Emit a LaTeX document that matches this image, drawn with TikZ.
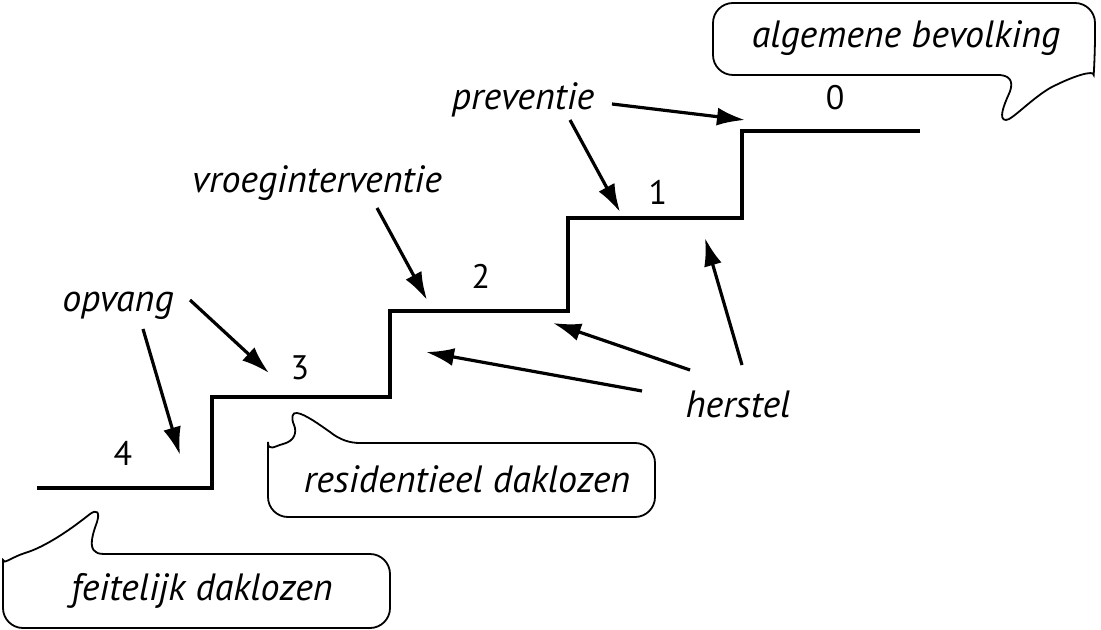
\documentclass[tikz,border=0pt]{standalone}
\usepackage{fontspec}
\setmainfont{PT Sans}
\usetikzlibrary{arrows.meta}
\tikzset{>={Latex[length=14pt,width=9pt]}}
\tikzset{
  trap/.style={line width=2pt},
  pijl/.style={->, line width=1.6pt},
  ballon/.style={line width=0.9pt},
  tekst/.style={font=\fontsize{19}{21}\selectfont\itshape, anchor=base, inner sep=0pt},
  nummer/.style={font=\fontsize{17}{19}\selectfont, anchor=base, inner sep=0pt}
}

\begin{document}
\begin{tikzpicture}[x=0.5pt,y=-0.5pt]
        \useasboundingbox (0,0) rectangle (1101,630);

        % The stairs, step 4 at the bottom up to step 0
        \draw[trap] (37,488) -- (212,488) -- (212,397) -- (390,397) -- (390,311)
            -- (568,311) -- (568,218) -- (742,218) -- (742,131) -- (920,131);

        \node[nummer] (n4) at (123,465) {4};
        \node[nummer] (n3) at (300,379) {3};
        \node[nummer] (n2) at (481,289) {2};
        \node[nummer] (n1) at (658,205) {1};
        \node[nummer] (n0) at (835,110) {0};

        % Labels with arrows
        \node[tekst] (prev) at (523,110) {preventie};
        \node[tekst] (vroeg) at (317,193) {vroeginterventie};
        \node[tekst] (opv) at (118,312) {opvang};
        \node[tekst] (herst) at (738,417) {herstel};

        \coordinate (prev-a) at (612,104);
        \coordinate (prev-b) at (570,120);
        \coordinate (vroeg-a) at (377,208);
        \coordinate (opv-a) at (190,300);
        \coordinate (opv-b) at (143,329);
        \coordinate (herst-a) at (742,365);
        \coordinate (herst-b) at (690,370);
        \coordinate (herst-c) at (642,391);

        \coordinate (t0) at (745,120);
        \coordinate (t1) at (620,212);
        \coordinate (t2) at (427,300);
        \coordinate (t3) at (269,373);
        \coordinate (t4) at (180,455);
        \coordinate (h1) at (705,238);
        \coordinate (h2) at (553,323);
        \coordinate (h3) at (426,352);

        \draw[pijl] (prev-a) -- (t0);
        \draw[pijl] (prev-b) -- (t1);
        \draw[pijl] (vroeg-a) -- (t2);
        \draw[pijl] (opv-a) -- (t3);
        \draw[pijl] (opv-b) -- (t4);
        \draw[pijl] (herst-a) -- (h1);
        \draw[pijl] (herst-b) -- (h2);
        \draw[pijl] (herst-c) -- (h3);

        % Speech balloons
        \draw[ballon] (1000,75) [rounded corners=10pt] -- (713,75) -- (713,3) -- (1095,3)
            -- (1095,55) [sharp corners]
            .. controls (1094,70) and (1075,75) .. (1050,88)
            .. controls (1030,100) and (1012,120) .. (1006,120)
            .. controls (998,120) and (1004,105) .. (1008,96)
            .. controls (1014,84) and (1012,76) .. (1000,75);
        \node[tekst] (alg) at (906,48) {algemene bevolking};

        \draw[ballon] (360,443) [rounded corners=10pt] -- (655,443) -- (655,517) -- (268,517)
            -- (268,462) [sharp corners]
            .. controls (268,452) and (275,446) .. (283,444)
            .. controls (295,441) and (297,432) .. (294,425)
            .. controls (291,418) and (292,412) .. (297,413)
            .. controls (305,414) and (320,425) .. (330,432)
            .. controls (340,440) and (350,443) .. (360,443);
        \node[tekst] (resid) at (467,492) {residentieel daklozen};

        \draw[ballon] (108,554) [rounded corners=10pt] -- (390,554) -- (390,628) -- (3,628)
            -- (3,580) [sharp corners]
            .. controls (3,565) and (12,557) .. (25,553)
            .. controls (45,547) and (70,530) .. (90,514)
            .. controls (97,509) and (100,512) .. (97,522)
            .. controls (93,533) and (88,548) .. (96,552)
            .. controls (98,554) and (102,554) .. (108,554);
        \node[tekst] (feit) at (202,600) {feitelijk daklozen};

\end{tikzpicture}
\end{document}
